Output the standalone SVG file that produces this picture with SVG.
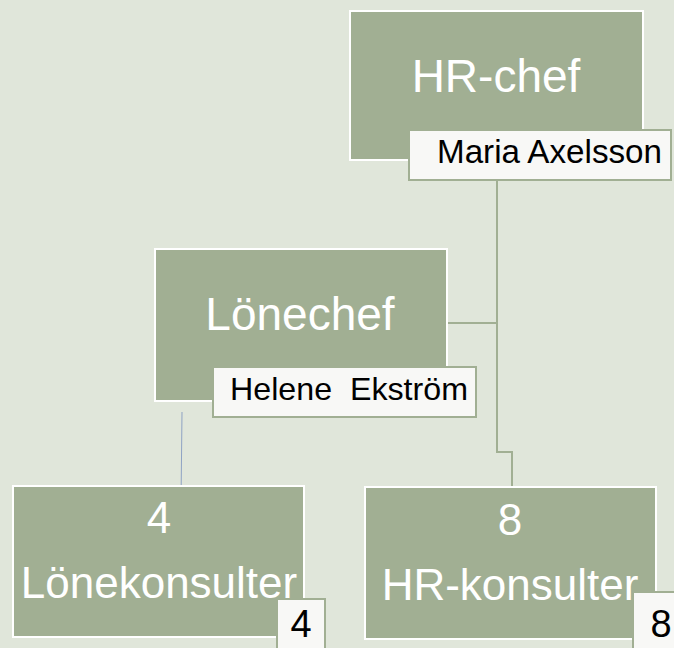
<svg xmlns="http://www.w3.org/2000/svg" width="674" height="648" viewBox="0 0 674 648">
<style>
.box{fill:#A1AF93;stroke:#FFFFFF;stroke-width:2}
.lbl{fill:#F8F8F6;stroke:#A1AF93;stroke-width:2}
.t{font-family:"Liberation Sans",Arial,sans-serif;fill:#FFFFFF;text-anchor:middle}
.lt{font-family:"Liberation Sans",Arial,sans-serif;fill:#000000}
.con{fill:none;stroke:#A1AF93;stroke-width:2}
</style>
<rect width="674" height="648" fill="#E0E6DA"/>
<g id="connectors">
<path class="con" d="M497 180 V452 H512 V486"/>
<path class="con" d="M447 323 H497"/>
<path d="M182 412 L181 503" fill="none" stroke="#8FA3C4" stroke-width="1"/>
</g>
<g id="hr-chef">
<rect class="box" x="350" y="11" width="293" height="149"/>
<text class="t" x="496" y="92" font-size="46">HR-chef</text>
<rect class="lbl" x="409" y="130" width="262" height="50"/>
<text class="lt" x="437" y="163" font-size="33" textLength="225" lengthAdjust="spacingAndGlyphs">Maria Axelsson</text>
</g>
<g id="lonechef">
<rect class="box" x="155" y="249" width="292" height="152"/>
<text class="t" x="300" y="330" font-size="46">Lönechef</text>
<rect class="lbl" x="213" y="367" width="263" height="50"/>
<text class="lt" x="230" y="400" font-size="32" xml:space="preserve" textLength="238" lengthAdjust="spacingAndGlyphs">Helene  Ekström</text>
</g>
<g id="lonekonsulter">
<rect class="box" x="13" y="486" width="291" height="151"/>
<text class="t" x="159" y="533" font-size="44">4</text>
<text class="t" x="159" y="598" font-size="44">Lönekonsulter</text>
<rect class="lbl" x="277" y="599" width="48" height="52"/>
<text class="lt" x="301" y="637" font-size="38" text-anchor="middle">4</text>
</g>
<g id="hr-konsulter">
<rect class="box" x="365" y="487" width="291" height="152"/>
<text class="t" x="510" y="535" font-size="44">8</text>
<text class="t" x="510" y="600" font-size="44">HR-konsulter</text>
<rect class="lbl" x="633" y="592" width="48" height="60"/>
<text class="lt" x="661" y="637" font-size="38" text-anchor="middle">8</text>
</g>
</svg>
